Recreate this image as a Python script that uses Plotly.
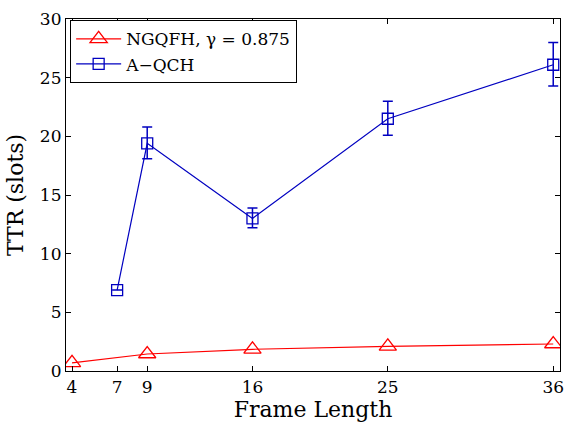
import plotly.graph_objects as go

frame_ngqfh = [4, 9, 16, 25, 36]
ttr_ngqfh = [0.7, 1.45, 1.85, 2.1, 2.3]

frame_aqch = [7, 9, 16, 25, 36]
ttr_aqch = [6.9, 19.4, 13.0, 21.5, 26.1]
err_plus = [0.0, 1.4, 0.9, 1.5, 1.9]
err_minus = [0.0, 1.3, 0.8, 1.4, 1.8]

x_ticks = [4, 7, 9, 16, 25, 36]
y_ticks = [0, 5, 10, 15, 20, 25, 30]

FONT = "DejaVu Serif"

fig = go.Figure()
fig.add_trace(go.Scatter(
    x=frame_ngqfh, y=ttr_ngqfh, mode="lines+markers",
    name="NGQFH, γ = 0.875",
    line=dict(color="#ff0000", width=1.2),
    marker=dict(symbol="triangle-up-open", size=15, color="#ff0000", line=dict(width=1.3)),
))
fig.add_trace(go.Scatter(
    x=frame_aqch, y=ttr_aqch, mode="lines+markers",
    name="A−QCH",
    line=dict(color="#0000c0", width=1.2),
    marker=dict(symbol="square-open", size=11, color="#0000c0", line=dict(width=1.3)),
    error_y=dict(type="data", symmetric=False, array=err_plus, arrayminus=err_minus,
                 color="#0000c0", thickness=1.5, width=5),
))

axis_common = dict(
    showline=True, linecolor="black", linewidth=1.2, mirror="ticks",
    ticks="inside", ticklen=5, tickcolor="black", showgrid=False, zeroline=False,
    tickfont=dict(family=FONT, size=17, color="black"), automargin=False,
    ticklabeloverflow="allow",
)
fig.update_xaxes(range=[3.6, 36.45], tickvals=x_ticks,
                 title=dict(text="Frame Length", font=dict(family=FONT, size=22, color="black"), standoff=8),
                 **axis_common)
fig.update_yaxes(range=[0, 30], tickvals=y_ticks,
                 title=dict(text="TTR (slots)", font=dict(family=FONT, size=22, color="black"), standoff=10),
                 **axis_common)

fig.update_layout(
    width=565, height=422, margin=dict(l=66, r=5, t=19, b=51),
    paper_bgcolor="white", plot_bgcolor="white",
    font=dict(family=FONT),
    showlegend=True,
    legend=dict(x=0.008, y=0.997, xanchor="left", yanchor="top",
                bgcolor="white", bordercolor="black", borderwidth=1.2,
                font=dict(family=FONT, size=17, color="black"),
                tracegroupgap=0, itemwidth=45),
)
fig.write_html("out.html")
